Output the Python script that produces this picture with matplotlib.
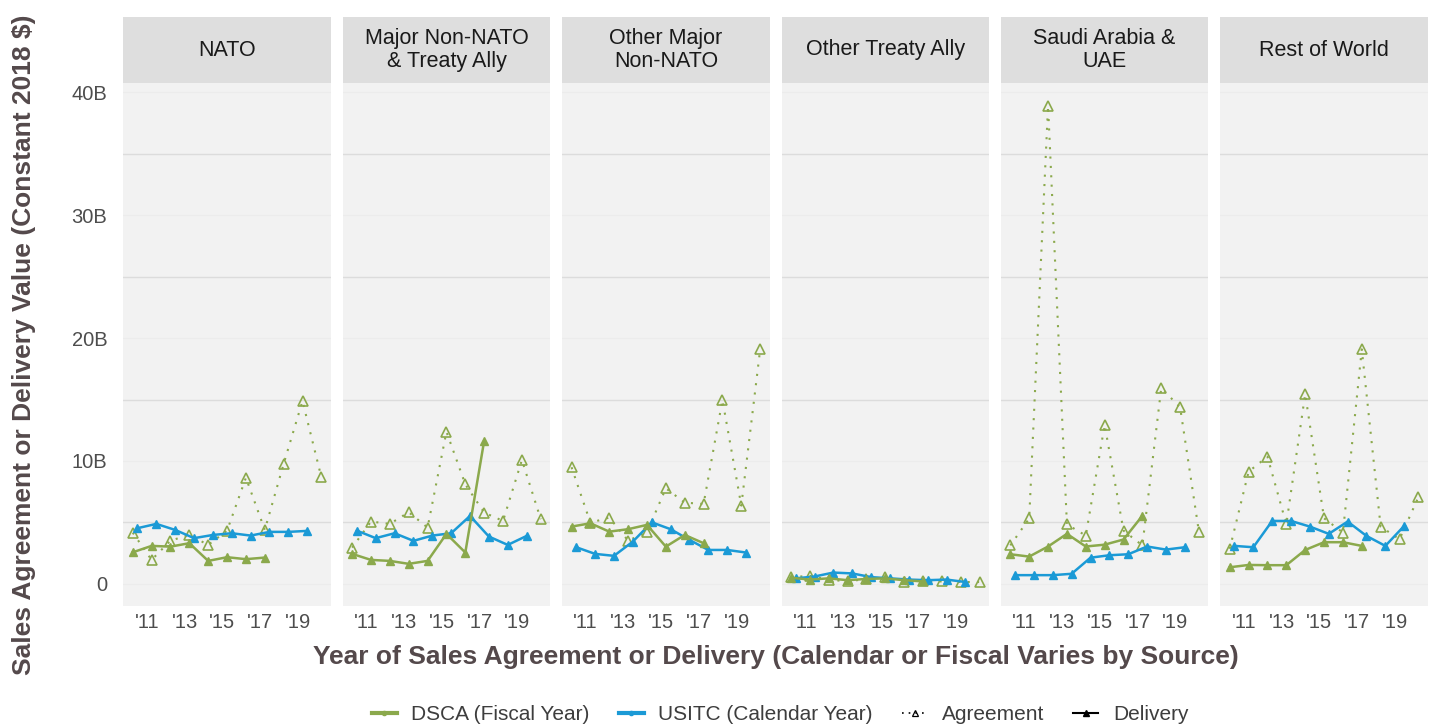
import matplotlib
matplotlib.use("Agg")
import matplotlib.pyplot as plt
from matplotlib.lines import Line2D

plt.rcParams['font.family'] = ['Liberation Sans', 'DejaVu Sans']

# regions (facets)
regions = ["NATO", "Major Non-NATO\n& Treaty Ally", "Other Major\nNon-NATO",
           "Other Treaty Ally", "Saudi Arabia &\nUAE", "Rest of World"]

# DSCA fiscal years / USITC calendar years
fy_agree = list(range(2010, 2021))
fy_deliv = list(range(2010, 2018))
cy_deliv = list(range(2010, 2020))

# values in billions (constant 2018 $)
nato_agree = [4.17, 1.95, 3.52, 3.98, 3.17, 4.33, 8.64, 4.39, 9.76, 14.88, 8.67]
nato_dsca = [2.57, 3.09, 3.03, 3.31, 1.87, 2.17, 2.01, 2.14]
nato_usitc = [4.53, 4.88, 4.39, 3.72, 3.98, 4.12, 3.93, 4.23, 4.23, 4.31]

mnn_agree = [2.95, 5.07, 4.88, 5.83, 4.58, 12.38, 8.10, 5.80, 5.12, 10.08, 5.26]
mnn_dsca = [2.44, 1.95, 1.87, 1.63, 1.87, 4.07, 2.55, 11.65]
mnn_usitc = [4.33, 3.72, 4.12, 3.50, 3.93, 4.12, 5.53, 3.85, 3.17, 3.90]

omn_agree = [9.49, 4.98, 5.39, 3.52, 4.20, 7.78, 6.61, 6.50, 14.96, 6.37, 19.08]
omn_dsca = [4.66, 4.93, 4.25, 4.45, 4.80, 3.03, 3.98, 3.31]
omn_usitc = [2.98, 2.44, 2.28, 3.44, 5.01, 4.45, 3.58, 2.76, 2.76, 2.55]

ota_agree = [0.55, 0.65, 0.35, 0.20, 0.40, 0.55, 0.15, 0.20, 0.20, 0.15, 0.15]
ota_dsca = [0.50, 0.35, 0.45, 0.30, 0.40, 0.45, 0.30, 0.20]
ota_usitc = [0.45, 0.60, 0.92, 0.85, 0.55, 0.45, 0.35, 0.30, 0.35, 0.15]

sau_agree = [3.13, 5.32, 38.90, 4.84, 3.93, 12.94, 4.33, 3.13, 15.93, 14.37, 4.21]
sau_dsca = [2.41, 2.22, 3.04, 4.07, 3.04, 3.19, 3.61, 5.54]
sau_usitc = [0.71, 0.71, 0.71, 0.82, 2.13, 2.33, 2.41, 3.04, 2.79, 2.98]

row_agree = [2.85, 9.13, 10.35, 4.85, 15.45, 5.34, 4.17, 19.08, 4.66, 3.63, 7.05]
row_dsca = [1.35, 1.54, 1.52, 1.52, 2.76, 3.39, 3.39, 3.09]
row_usitc = [3.09, 2.98, 5.12, 5.12, 4.66, 4.07, 5.07, 3.90, 3.09, 4.72]

series = [(nato_agree, nato_dsca, nato_usitc),
          (mnn_agree, mnn_dsca, mnn_usitc),
          (omn_agree, omn_dsca, omn_usitc),
          (ota_agree, ota_dsca, ota_usitc),
          (sau_agree, sau_dsca, sau_usitc),
          (row_agree, row_dsca, row_usitc)]

green = "#8BA94C"
blue = "#1B9AD6"
W, H = 1432, 728

fig = plt.figure(figsize=(W / 100, H / 100), dpi=100)

left0, pw, pitch = 123.3, 207.5, 219.4
ptop, pbot = 83, 606
stop = 17

# fiscal year midpoint ~ April, calendar year midpoint ~ July
fx_a = [y + 0.25 for y in fy_agree]
fx_d = [y + 0.25 for y in fy_deliv]
cx_d = [y + 0.5 for y in cy_deliv]

for i, (name, (agree, dsca, usitc)) in enumerate(zip(regions, series)):
    x0 = left0 + i * pitch
    ax = fig.add_axes([x0 / W, 1 - pbot / H, pw / W, (pbot - ptop) / H])
    ax.set_facecolor("#F2F2F2")
    for s in ax.spines.values():
        s.set_visible(False)
    for v in [5, 15, 25, 35]:
        ax.axhline(v, color="#DCDCDC", lw=1.0, zorder=0)
    for v in [0, 10, 20, 30, 40]:
        ax.axhline(v, color="#ECECEC", lw=0.8, zorder=0)

    ax.plot(fx_a, agree, color=green, ls=(0, (1, 3.5)), lw=1.5, marker="^",
            ms=6.5, mfc="none", mec=green, mew=1.2, zorder=3)
    ax.plot(cx_d, usitc, color=blue, lw=1.8, marker="^", ms=5.5, zorder=4)
    ax.plot(fx_d, dsca, color=green, lw=1.8, marker="^", ms=5.5, zorder=4)

    ax.set_xlim(2009.75, 2020.75)
    ax.set_ylim(-1.8, 40.75)
    ax.set_xticks([2011, 2013, 2015, 2017, 2019])
    ax.set_xticklabels(["'11", "'13", "'15", "'17", "'19"])
    ax.set_yticks([0, 10, 20, 30, 40])
    ax.tick_params(length=0, labelsize=14.5, labelcolor="#4D4D4D", pad=5)
    if i == 0:
        ax.set_yticklabels(["0", "10B", "20B", "30B", "40B"])
        ax.tick_params(axis="y", pad=11.5)
    else:
        ax.set_yticklabels([])

    sax = fig.add_axes([x0 / W, 1 - ptop / H, pw / W, (ptop - stop) / H])
    sax.set_facecolor("#DEDEDE")
    sax.set_xticks([])
    sax.set_yticks([])
    for s in sax.spines.values():
        s.set_visible(False)
    sax.text(0.5, 0.5, name, ha="center", va="center", fontsize=15.5,
             color="#1A1A1A", linespacing=1.1, transform=sax.transAxes)

fig.text(775.6 / W, 1 - 657 / H,
         "Year of Sales Agreement or Delivery (Calendar or Fiscal Varies by Source)",
         ha="center", va="center", fontsize=19, fontweight="bold", color="#54494B")
fig.text(24 / W, 1 - 344.5 / H,
         "Sales Agreement or Delivery Value (Constant 2018 $)",
         ha="center", va="center", rotation=90, fontsize=19,
         fontweight="bold", color="#54494B")

handles = [
    Line2D([], [], color=green, lw=3, marker="o", ms=3),
    Line2D([], [], color=blue, lw=3, marker="o", ms=3),
    Line2D([], [], color="black", ls=(0, (1, 3)), lw=1.2, marker="^", ms=5,
           mfc="none", mec="black", mew=0.9),
    Line2D([], [], color="black", lw=1.5, marker="^", ms=5),
]
labels = ["DSCA (Fiscal Year)", "USITC (Calendar Year)", "Agreement", "Delivery"]
fig.legend(handles, labels, loc="center", bbox_to_anchor=(780 / W, 1 - 715 / H),
           ncol=4, frameon=False, fontsize=15, handlelength=1.2,
           columnspacing=1.4, handletextpad=0.7, labelcolor="#3D3D3D")

fig.savefig("out.png", dpi=100, facecolor="white")
